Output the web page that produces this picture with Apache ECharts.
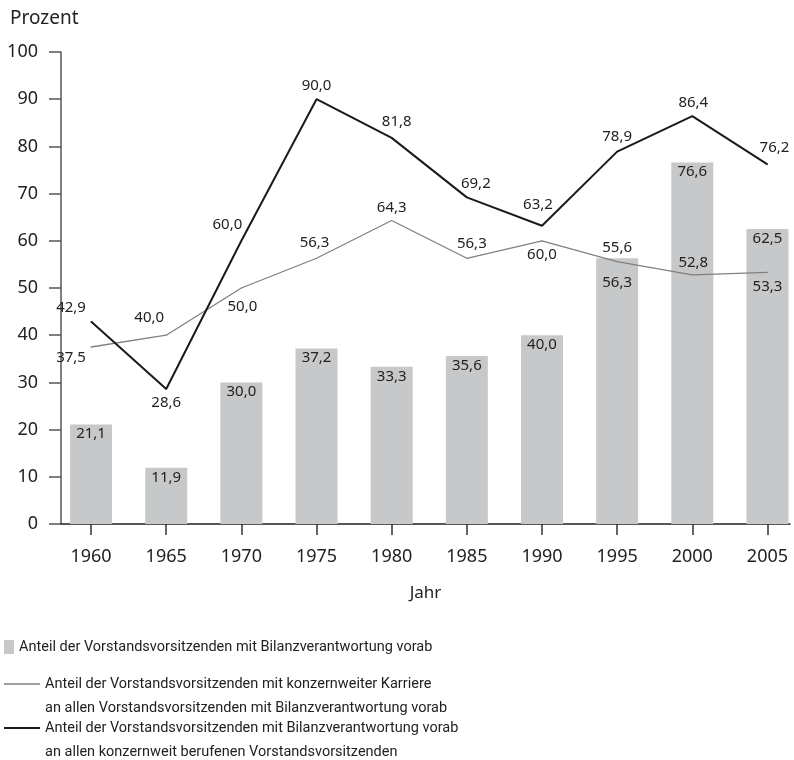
<!DOCTYPE html>
<html>
<head>
<meta charset="utf-8">
<script src="https://cdn.jsdelivr.net/npm/echarts@6/dist/echarts.min.js"></script>
<style>
  html, body { margin: 0; background: #fff; }
  #chart { width: 794px; height: 760px; }
</style>
</head>
<body>
<div id="chart"></div>
<script>
// data
const years = [1960, 1965, 1970, 1975, 1980, 1985, 1990, 1995, 2000, 2005];
const barValues = [21.1, 11.9, 30.0, 37.2, 33.3, 35.6, 40.0, 56.3, 76.6, 62.5];
const grayValues = [37.5, 40.0, 50.0, 56.3, 64.3, 56.3, 60.0, 55.6, 52.8, 53.3];
const blackValues = [42.9, 28.6, 60.0, 90.0, 81.8, 69.2, 63.2, 78.9, 86.4, 76.2];

const barName = "Anteil der Vorstandsvorsitzenden mit Bilanzverantwortung vorab";
const grayName = "Anteil der Vorstandsvorsitzenden mit konzernweiter Karriere\nan allen Vorstandsvorsitzenden mit Bilanzverantwortung vorab";
const blackName = "Anteil der Vorstandsvorsitzenden mit Bilanzverantwortung vorab\nan allen konzernweit berufenen Vorstandsvorsitzenden";

// label placement (pixel nudges so labels sit where the print has them)
const barLabelShift = [0, 0, 0, 0, 0, 0, 0, 15, 0, 0];
const grayLabelShift = [[-20, 11], [-17, -17], [1, 19], [-2, -16], [0, -13], [5, -15], [0, 14], [0, -14], [1, -12], [0, 14]];
const blackLabelShift = [[-20, -14], [0, 14], [-14, -16], [0, -13], [5, -16], [9, -14], [-4, -21], [0, -15], [1, -13], [7, -17]];

const font = "Noto Sans";
const legendFont = "Roboto";
const textColor = "#222";
const fmt = v => v.toFixed(1).replace(".", ",");

const chart = echarts.init(document.getElementById("chart"));

const lineData = (vals, shifts) => years.map((y, i) => ({
  value: [y, vals[i]],
  label: { offset: shifts[i] }
}));

const lineLabel = {
  show: true,
  position: "inside",
  fontFamily: font,
  fontSize: 15,
  color: textColor,
  formatter: p => fmt(p.value[1])
};

const legendText = { fontFamily: legendFont, fontSize: 14.5, lineHeight: 24, color: textColor };

chart.setOption({
  animation: false,
  textStyle: { fontFamily: font },
  title: {
    text: "Prozent",
    left: 5,
    top: 4,
    textStyle: { fontFamily: font, fontSize: 19, fontWeight: "normal", color: textColor }
  },
  grid: { left: 61, right: 4, top: 52, bottom: 236 },
  xAxis: {
    type: "value",
    min: 1958,
    max: 2006.5,
    name: "Jahr",
    nameLocation: "middle",
    nameGap: 61,
    nameTextStyle: { fontFamily: font, fontSize: 17, color: textColor },
    axisLine: { show: true, lineStyle: { color: "#222", width: 1.5 } },
    axisTick: { show: true, customValues: years, length: 11, lineStyle: { color: "#333", width: 1.5 } },
    axisLabel: { customValues: years, margin: 24, fontSize: 18, color: textColor, formatter: v => String(v) },
    splitLine: { show: false }
  },
  yAxis: {
    type: "value",
    min: 0,
    max: 100,
    interval: 10,
    axisLine: { show: true, lineStyle: { color: "#555", width: 1.5 } },
    axisTick: { show: true, length: 12, lineStyle: { color: "#555", width: 1.5 } },
    axisLabel: { margin: 23, fontSize: 18, color: textColor },
    splitLine: { show: false }
  },
  legend: [
    {
      left: 4, top: 635, padding: 0, selectedMode: false,
      icon: "rect", itemWidth: 10, itemHeight: 14,
      data: [barName],
      textStyle: legendText
    },
    {
      left: 4, top: 648, padding: 0, selectedMode: false,
      icon: "rect", itemWidth: 36, itemHeight: 1.5,
      data: [grayName],
      formatter: n => "\n" + n,
      textStyle: legendText
    },
    {
      left: 4, top: 692, padding: 0, selectedMode: false,
      icon: "rect", itemWidth: 36, itemHeight: 2,
      data: [blackName],
      formatter: n => "\n" + n,
      textStyle: legendText
    }
  ],
  series: [
    {
      name: barName,
      type: "bar",
      barWidth: 42,
      itemStyle: { color: "#c7c8ca" },
      data: years.map((y, i) => ({ value: [y, barValues[i]], label: { offset: [0, barLabelShift[i]] } })),
      label: {
        show: true,
        position: "insideTop",
        distance: 2,
        fontFamily: font,
        fontSize: 15,
        color: textColor,
        formatter: p => fmt(p.value[1])
      }
    },
    {
      name: grayName,
      type: "line",
      symbol: "circle",
      symbolSize: 1,
      color: "#808080",
      lineStyle: { color: "#808080", width: 1.3 },
      data: lineData(grayValues, grayLabelShift),
      label: lineLabel
    },
    {
      name: blackName,
      type: "line",
      symbol: "circle",
      symbolSize: 1,
      color: "#1a1a1a",
      lineStyle: { color: "#1a1a1a", width: 2 },
      data: lineData(blackValues, blackLabelShift),
      label: lineLabel
    }
  ]
});
</script>
</body>
</html>
